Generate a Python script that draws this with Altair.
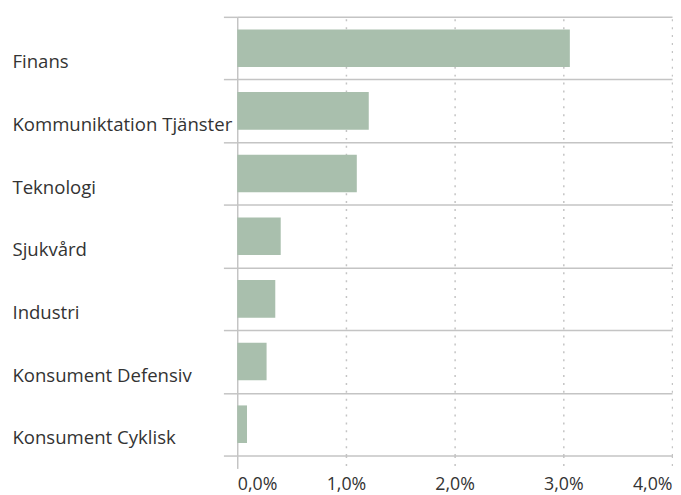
import altair as alt
import pandas as pd

categories = ["Finans", "Kommuniktation Tjänster", "Teknologi", "Sjukvård",
              "Industri", "Konsument Defensiv", "Konsument Cyklisk"]
values = [3.06, 1.21, 1.10, 0.40, 0.35, 0.27, 0.09]
x_ticks = [0, 1, 2, 3, 4]

df = pd.DataFrame({"kategori": categories, "andel": values})

FONT = "Open Sans"
GRID = "#c4c4c4"

dash_cond = {"condition": {"test": "datum.value === 0", "value": []}, "value": [2, 6]}

chart = alt.Chart(df).mark_bar(color="#a9bfad", height={"band": 0.6}).encode(
    x=alt.X("andel:Q",
            scale=alt.Scale(domain=[0, 4], nice=False, zero=True),
            axis=alt.Axis(values=x_ticks, title=None, domain=False,
                          grid=True, gridColor=GRID, gridWidth=1.5,
                          gridDash=dash_cond,
                          ticks=True, tickSize=13, tickColor=GRID, tickWidth=1.5,
                          tickDash=dash_cond,
                          labelExpr="replace(format(datum.value, '.1f'), '.', ',') + '%'",
                          labelFont=FONT, labelFontSize=18, labelColor="#333333",
                          labelPadding=7, labelFlush=True)),
    y=alt.Y("kategori:N", sort=categories,
            scale=alt.Scale(paddingInner=0, paddingOuter=0),
            axis=alt.Axis(title=None, domain=False,
                          grid=True, gridColor=GRID, gridWidth=1.5,
                          ticks=True, tickBand="extent", tickSize=14,
                          tickColor=GRID, tickWidth=1.5,
                          labelAlign="left", labelPadding=214,
                          labelBaseline="middle", labelOffset=14,
                          labelFont=FONT, labelFontSize=18.8, labelColor="#333333",
                          labelLimit=300)),
).properties(
    width=440, height=444,
    autosize=alt.AutoSizeParams(type="none"),
    padding={"left": 232, "top": 6, "right": 1, "bottom": 40},
).configure_view(stroke=None)

chart.save("out.html", embed_options={"renderer": "svg", "actions": False})
